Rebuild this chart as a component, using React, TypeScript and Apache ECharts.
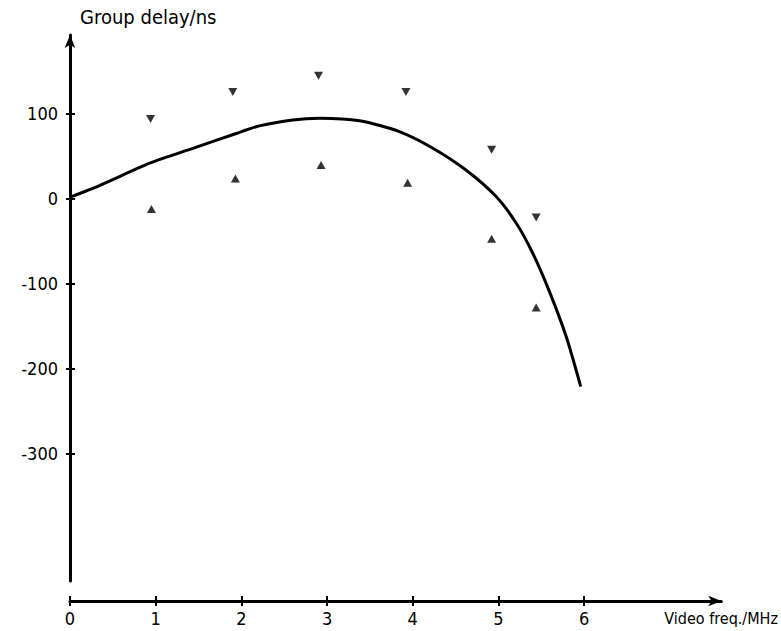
import React, { useEffect, useRef } from "react";
import * as echarts from "echarts";

const curveX = [0, 0.35, 0.93, 1.45, 1.94, 2.21, 2.6, 2.91, 3.38, 3.85, 4.23, 4.62, 4.97, 5.21, 5.4, 5.59, 5.79, 5.96];
const curveY = [2, 16, 42, 60, 77, 86, 93, 95, 92, 79, 60, 34, 3, -29, -64, -108, -162, -221];

const downX = [0.94, 1.9, 2.9, 3.92, 4.92, 5.44];
const downY = [94, 126, 145, 126, 58, -22];

const upX = [0.95, 1.93, 2.93, 3.94, 4.92, 5.44];
const upY = [-12, 24, 40, 19, -47, -128];

const xTicks = [0, 1, 2, 3, 4, 5, 6];
const yTicks = [-300, -200, -100, 0, 100];

const FONT = "'DejaVu Sans Condensed', 'Liberation Sans Narrow', 'DejaVu Sans', sans-serif";

export default function App() {
  const ref = useRef<HTMLDivElement>(null);
  useEffect(() => {
    if (!ref.current) return;
    const chart = echarts.init(ref.current, undefined, { renderer: "svg" });
    const axisLineStyle = { color: "#000", width: 3 };
    chart.setOption({
      animation: false,
      backgroundColor: "#fff",
      grid: { left: 70, right: 59, top: 35, bottom: 50 },
      xAxis: [
        {
          type: "value",
          min: 0,
          max: 7.6,
          offset: 20,
          splitLine: { show: false },
          axisLine: { show: true, onZero: false, lineStyle: axisLineStyle, symbol: ["none", "arrow"], symbolSize: [8, 13] },
          axisTick: { show: true, length: 5, lineStyle: { color: "#000", width: 2 }, customValues: xTicks },
          axisLabel: { color: "#000", fontSize: 18, fontFamily: FONT, margin: 8, customValues: xTicks },
          name: "Video freq./MHz",
          nameLocation: "end",
          nameGap: -57,
          nameTextStyle: { color: "#000", fontSize: 16, fontFamily: FONT, verticalAlign: "top", padding: [9, 0, 0, 0] },
        },
        {
          type: "value",
          min: 0,
          max: 7.6,
          offset: 20,
          position: "bottom",
          splitLine: { show: false },
          axisLine: { show: false, onZero: false },
          axisTick: { show: true, inside: true, length: 5, lineStyle: { color: "#000", width: 2 }, customValues: xTicks },
          axisLabel: { show: false },
        },
      ],
      yAxis: [
        {
          type: "value",
          min: -450,
          max: 193,
          splitLine: { show: false },
          axisLine: { show: true, onZero: false, lineStyle: axisLineStyle, symbol: ["none", "arrow"], symbolSize: [8, 13] },
          axisTick: { show: true, length: 4, lineStyle: { color: "#000", width: 2 }, customValues: yTicks },
          axisLabel: { color: "#000", fontSize: 18, fontFamily: FONT, margin: 12, customValues: yTicks },
          name: "Group delay/ns",
          nameLocation: "end",
          nameGap: 8,
          nameTextStyle: { color: "#000", fontSize: 20, fontFamily: FONT, align: "left", padding: [0, 0, 0, 10] },
        },
        {
          type: "value",
          min: -450,
          max: 193,
          position: "left",
          splitLine: { show: false },
          axisLine: { show: false, onZero: false },
          axisTick: { show: true, inside: true, length: 5, lineStyle: { color: "#000", width: 2 }, customValues: yTicks },
          axisLabel: { show: false },
        },
      ],
      series: [
        {
          type: "line",
          data: curveX.map((x, i) => [x, curveY[i]]),
          smooth: 0.25,
          showSymbol: false,
          symbol: "none",
          lineStyle: { color: "#000", width: 3 },
          xAxisIndex: 0,
          yAxisIndex: 0,
        },
        {
          type: "scatter",
          data: downX.map((x, i) => [x, downY[i]]),
          symbol: "triangle",
          symbolRotate: 180,
          symbolSize: [9, 8],
          itemStyle: { color: "#000" },
          xAxisIndex: 0,
          yAxisIndex: 0,
        },
        {
          type: "scatter",
          data: upX.map((x, i) => [x, upY[i]]),
          symbol: "triangle",
          symbolSize: [9, 8],
          itemStyle: { color: "#000" },
          xAxisIndex: 0,
          yAxisIndex: 0,
        },
      ],
    });
    return () => chart.dispose();
  }, []);
  return (
    <div
      ref={ref}
      style={{ position: "fixed", left: 0, top: 0, width: 781, height: 631, background: "#fff" }}
    />
  );
}
